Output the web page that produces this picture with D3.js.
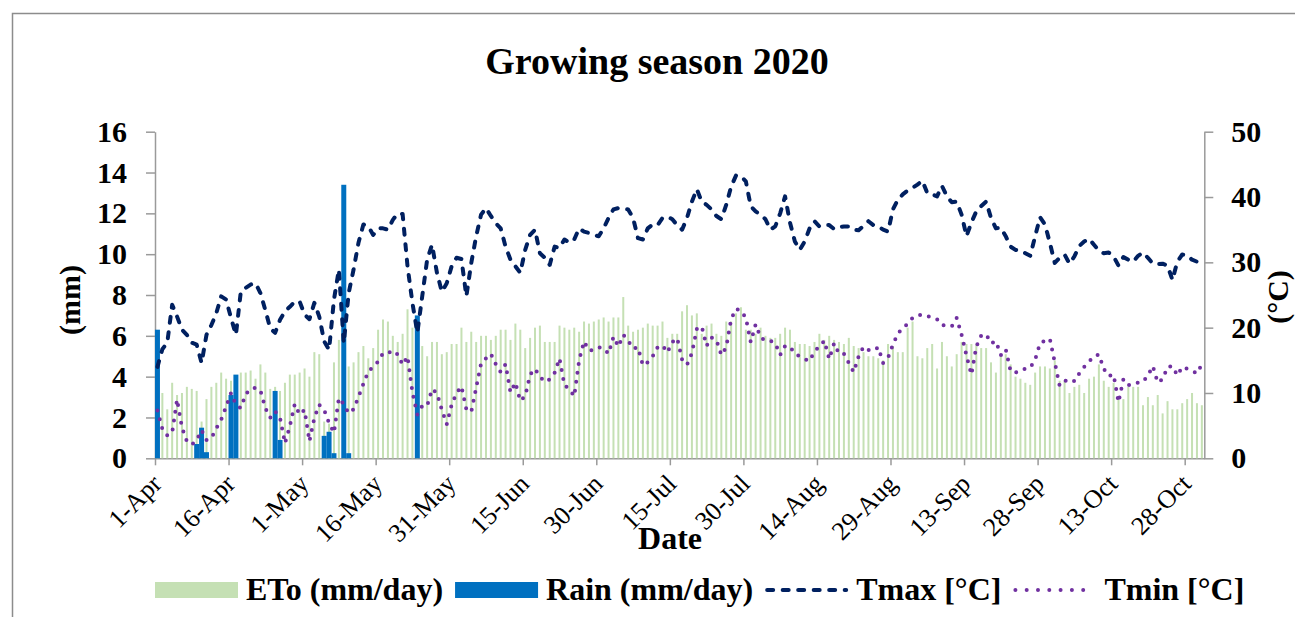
<!DOCTYPE html>
<html>
<head>
<meta charset="utf-8">
<script src="https://cdn.jsdelivr.net/npm/d3@7"></script>
<style>
  html, body { margin: 0; padding: 0; background: #fff; }
  svg { display: block; font-family: "Liberation Serif", "Times New Roman", serif; }
</style>
</head>
<body>
<svg id="chart" width="1295" height="617"></svg>
<script>
// Daily weather series, 1 April - 31 October 2020
const startDate = "2020-04-01";

const eto = [
  3.0,3.2,2.4,3.7,3.1,3.2,3.5,3.4,3.3,1.8,
  2.9,3.5,3.7,4.2,3.9,3.8,4.0,4.2,4.2,4.3,
  3.9,4.6,4.2,3.4,3.5,3.3,3.7,4.1,4.1,4.2,
  4.4,4.0,5.2,5.1,1.8,1.7,4.7,5.8,5.0,4.5,
  4.7,5.2,5.5,4.9,5.4,6.3,6.8,6.7,6.0,5.7,
  6.1,7.3,6.4,5.5,5.5,5.0,5.7,5.7,5.1,5.2,
  5.6,5.6,6.4,5.7,6.2,5.7,6.0,6.0,5.8,6.0,
  6.3,6.3,5.8,6.6,6.3,5.4,5.9,6.4,6.5,5.7,
  5.7,5.7,6.5,6.4,6.3,6.4,6.2,6.7,6.6,6.7,
  6.8,6.9,6.7,6.9,6.9,7.9,6.5,6.2,6.3,6.4,
  6.6,6.5,6.5,6.7,5.9,6.1,6.1,7.2,7.5,7.0,
  7.1,6.1,6.5,6.6,6.1,6.0,6.7,6.7,7.1,7.4,
  6.3,6.3,6.1,6.4,6.0,5.9,5.9,6.1,6.4,6.3,
  5.7,5.6,5.6,5.5,5.7,6.1,5.8,6.0,5.8,5.7,
  5.6,5.9,5.5,5.4,5.2,5.0,5.0,4.9,4.8,5.6,
  5.5,5.2,5.2,6.4,6.7,5.0,4.9,5.4,5.6,4.4,
  5.7,5.0,4.5,5.1,5.7,5.6,5.6,5.6,5.4,5.4,
  4.7,4.2,5.0,5.1,4.6,4.0,3.9,3.7,3.6,4.2,
  4.5,4.5,4.4,4.8,3.8,3.8,3.2,3.5,3.6,3.2,
  3.9,4.0,4.6,3.8,3.5,3.7,2.9,2.9,3.5,3.5,
  3.5,2.6,3.0,2.6,3.1,2.2,2.8,2.4,2.4,2.7,
  2.9,3.2,2.7,2.6
];

const rain = [
  6.3,0,0,0,0,0,0,0,0.7,1.5,
  0.3,0,0,0,0,3.1,4.1,0,0,0,
  0,0,0,0,3.3,0.9,0,0,0,0,
  0,0,0,0,1.1,1.3,0.25,0,13.4,0.25,
  0,0,0,0,0,0,0,0,0,0,
  0,0,0,7.0,0,0,0,0,0,0,
  0,0,0,0,0,0,0,0,0,0,
  0,0,0,0,0,0,0,0,0,0,
  0,0,0,0,0,0,0,0,0,0,
  0,0,0,0,0,0,0,0,0,0,
  0,0,0,0,0,0,0,0,0,0,
  0,0,0,0,0,0,0,0,0,0,
  0,0,0,0,0,0,0,0,0,0,
  0,0,0,0,0,0,0,0,0,0,
  0,0,0,0,0,0,0,0,0,0,
  0,0,0,0,0,0,0,0,0,0,
  0,0,0,0,0,0,0,0,0,0,
  0,0,0,0,0,0,0,0,0,0,
  0,0,0,0,0,0,0,0,0,0,
  0,0,0,0,0,0,0,0,0,0,
  0,0,0,0,0,0,0,0,0,0,
  0,0,0,0
];

const tmax = [
  14.0,16.7,17.7,23.5,21.7,19.7,18.9,17.7,17.4,14.6,
  18.9,20.4,22.2,24.8,24.3,21.5,18.9,25.5,26.1,26.6,
  26.8,25.3,22.7,19.9,19.2,21.2,22.5,23.2,24.0,24.0,
  22.0,21.3,23.8,21.7,17.9,16.6,24.3,28.9,17.6,25.3,
  28.9,33.0,35.8,35.5,34.2,35.2,35.2,35.0,36.5,37.5,
  37.4,29.4,23.8,19.2,24.8,30.4,32.7,28.4,25.5,26.8,
  29.4,30.7,30.5,24.8,29.9,34.0,37.3,38.3,37.1,36.0,
  35.2,32.4,30.4,29.4,28.4,31.9,34.2,35.0,31.4,30.7,
  29.6,32.4,32.2,33.5,33.0,33.5,35.2,34.7,34.5,34.2,
  34.0,35.2,36.8,38.1,38.3,38.2,38.1,36.8,33.7,33.5,
  35.2,35.8,35.7,36.8,37.0,36.6,35.7,35.0,36.8,39.3,
  41.2,39.3,38.8,38.1,37.1,36.6,38.8,41.6,43.3,43.2,
  42.4,38.6,37.8,37.3,36.6,35.0,35.5,37.5,40.1,36.1,
  33.2,31.9,33.2,35.2,36.3,35.5,35.7,35.7,35.1,35.4,
  35.5,35.5,35.0,34.9,35.6,36.3,35.7,35.5,35.0,34.7,
  38.1,39.6,40.4,41.0,41.4,41.9,42.5,40.6,40.4,40.1,
  41.7,40.1,39.2,39.3,37.3,34.0,36.1,37.8,38.6,39.3,
  36.8,35.2,35.3,34.0,32.4,31.9,31.8,31.4,31.0,34.0,
  36.9,35.8,33.0,29.9,30.7,31.2,29.8,30.9,32.5,33.2,
  33.6,32.7,31.8,31.4,31.5,30.9,29.5,30.8,30.4,30.1,
  31.0,31.5,30.7,29.8,29.7,29.8,29.5,27.3,30.1,31.2,
  31.1,30.4,30.1,29.1
];

const tmin = [
  7.3,4.5,3.5,3.9,9.0,4.7,2.6,2.1,2.8,4.3,
  2.8,3.1,4.6,5.9,7.9,10.0,8.2,7.7,9.8,10.6,
  10.8,10.4,7.7,6.2,7.2,6.2,2.3,4.9,8.3,6.7,
  7.4,2.6,6.2,8.2,7.4,5.4,3.9,9.2,8.3,6.9,
  7.5,9.4,11.4,13.3,14.0,14.8,16.1,16.1,16.5,15.9,
  14.3,15.6,10.1,6.7,8.0,8.0,10.6,10.0,7.4,5.2,
  8.2,10.0,11.0,7.5,7.1,10.8,14.5,15.3,16.0,14.4,
  13.2,14.4,10.1,11.6,8.8,9.5,12.8,13.7,12.5,11.7,
  12.1,13.1,15.3,11.2,10.6,9.5,15.0,17.9,16.5,16.6,
  17.0,16.8,16.0,18.6,17.1,18.9,18.0,16.8,17.0,14.2,
  14.7,15.6,17.0,17.3,16.2,17.8,18.4,15.1,14.3,16.1,
  19.8,20.2,17.2,18.5,18.1,15.8,17.0,21.3,22.9,22.6,
  21.5,17.8,20.5,18.5,18.0,18.0,17.6,15.8,17.2,17.1,
  16.0,15.6,15.2,14.9,16.4,17.1,18.0,15.2,17.6,16.0,
  16.0,14.6,13.2,15.6,17.1,16.6,16.5,17.0,14.6,15.4,
  17.4,19.1,19.9,20.6,21.5,21.9,22.0,21.8,21.5,21.3,
  20.4,20.3,20.2,21.5,18.9,15.7,12.8,17.1,18.8,19.0,
  17.6,17.9,15.8,16.7,13.3,13.1,13.5,13.7,13.9,15.1,
  17.6,18.0,18.3,14.7,11.1,11.8,12.1,11.8,13.0,14.0,
  14.8,15.6,15.9,13.7,12.6,12.8,8.6,12.1,11.2,11.3,
  11.6,11.7,12.7,14.1,11.6,12.1,14.0,14.1,12.7,14.0,
  13.7,13.4,13.0,14.4
];

const tickLabels = ["1-Apr","16-Apr","1-May","16-May","31-May","15-Jun","30-Jun",
  "15-Jul","30-Jul","14-Aug","29-Aug","13-Sep","28-Sep","13-Oct","28-Oct"];
const tickEvery = 15;
const mmTicks = [0,2,4,6,8,10,12,14,16];
const tempTicks = [0,10,20,30,40,50];

const legendItems = [
  { key: "eto",  label: "ETo (mm/day)" },
  { key: "rain", label: "Rain (mm/day)" },
  { key: "tmax", label: "Tmax [°C]" },
  { key: "tmin", label: "Tmin [°C]" }
];

// ---- layout ----
const W = 1295, H = 617;
const plot = { left: 155, right: 1204.3, top: 131.7, bottom: 458.3 };
const C = {
  eto: "#c5e0b4", rain: "#0070c0", tmax: "#002060", tmin: "#7030a0",
  axis: "#9a9a9a", frame: "#8c8c8c"
};

const svg = d3.select("#chart");
svg.append("rect").attr("width", W).attr("height", H).attr("fill", "#fff");
// chart frame (only its top and left edges fall inside the page)
svg.append("rect")
  .attr("x", 12.5).attr("y", 13.5).attr("width", 1300).attr("height", 640)
  .attr("fill", "none").attr("stroke", C.frame).attr("stroke-width", 1.5);

const start = d3.timeParse("%Y-%m-%d")(startDate);
const days = d3.timeDay.range(start, d3.timeDay.offset(start, eto.length));
const idx = d3.range(days.length);

const x = d3.scaleBand().domain(idx).range([plot.left, plot.right]).padding(0);
const xEdge = d3.scaleLinear().domain([0, days.length]).range([plot.left, plot.right]);
const yL = d3.scaleLinear().domain([0, 16]).range([plot.bottom, plot.top]);
const yR = d3.scaleLinear().domain([0, 50]).range([plot.bottom, plot.top]);
const bw = x.bandwidth();
const cx = i => x(i) + bw / 2;

// ---- title ----
svg.append("text")
  .attr("x", 657).attr("y", 74).attr("text-anchor", "middle")
  .attr("font-size", 38).attr("font-weight", "bold").text("Growing season 2020");

// ---- axes ----
function styleAxis(g) {
  g.selectAll("path").attr("stroke", C.axis).attr("stroke-width", 1.5);
  g.selectAll("line").attr("stroke", C.axis).attr("stroke-width", 1.5);
  g.selectAll("text").attr("fill", "#000").attr("font-size", 30).attr("font-weight", "bold")
    .attr("font-family", '"Liberation Serif", "Times New Roman", serif');
}
svg.append("g").attr("transform", `translate(${plot.left},0)`)
  .call(d3.axisLeft(yL).tickValues(mmTicks).tickFormat(d3.format("d"))
    .tickSize(9).tickSizeOuter(0).tickPadding(19))
  .call(styleAxis);
svg.append("g").attr("transform", `translate(${plot.right},0)`)
  .call(d3.axisRight(yR).tickValues(tempTicks).tickFormat(d3.format("d"))
    .tickSize(9).tickSizeOuter(0).tickPadding(18))
  .call(styleAxis);

// date axis: ticks sit on the day boundaries every 15 days
const tickIdx = tickLabels.map((_, k) => k * tickEvery);
const xAxisG = svg.append("g").attr("transform", `translate(0,${plot.bottom})`)
  .call(d3.axisBottom(xEdge).tickValues(tickIdx).tickSize(7).tickSizeOuter(0).tickFormat(""));
xAxisG.selectAll("path").attr("stroke", C.axis).attr("stroke-width", 1.5);
xAxisG.selectAll("line").attr("stroke", C.axis).attr("stroke-width", 1.5);

svg.append("g").selectAll("text").data(tickIdx).join("text")
  .attr("transform", (d) => `translate(${xEdge(d) + 8},${plot.bottom + 27}) rotate(-45)`)
  .attr("text-anchor", "end").attr("font-size", 26)
  .text((d, k) => tickLabels[k]);

// axis titles
svg.append("text")
  .attr("transform", "translate(80,300) rotate(-90)")
  .attr("text-anchor", "middle").attr("font-size", 30).attr("font-weight", "bold").text("(mm)");
svg.append("text")
  .attr("transform", "translate(1288,297) rotate(-90)")
  .attr("text-anchor", "middle").attr("font-size", 30).attr("font-weight", "bold").text("(°C)");
svg.append("text")
  .attr("x", 670).attr("y", 549).attr("text-anchor", "middle")
  .attr("font-size", 32).attr("font-weight", "bold").text("Date");

// ---- bars ----
const etoW = 2, rainW = 5;
svg.append("g").selectAll("rect").data(idx).join("rect")
  .attr("x", i => cx(i) - etoW / 2).attr("width", etoW)
  .attr("y", i => yL(eto[i])).attr("height", i => yL(0) - yL(eto[i]))
  .attr("fill", C.eto);
svg.append("g").selectAll("rect").data(idx.filter(i => rain[i] > 0)).join("rect")
  .attr("x", i => cx(i) - rainW / 2).attr("width", rainW)
  .attr("y", i => yL(rain[i])).attr("height", i => yL(0) - yL(rain[i]))
  .attr("fill", C.rain);

// ---- temperature lines ----
const tmaxDash = "6,9.5", tminDash = "0,9";
const lineOf = arr => d3.line().x(i => cx(i)).y(i => yR(arr[i]))(idx);
svg.append("path").attr("d", lineOf(tmax))
  .attr("fill", "none").attr("stroke", C.tmax).attr("stroke-width", 4)
  .attr("stroke-dasharray", tmaxDash).attr("stroke-linecap", "round").attr("stroke-linejoin", "round");
svg.append("path").attr("d", lineOf(tmin))
  .attr("fill", "none").attr("stroke", C.tmin).attr("stroke-width", 4)
  .attr("stroke-dasharray", tminDash).attr("stroke-linecap", "round");

// ---- legend ----
const legY = 590, symW = 83, symGap = 8, itemGap = 12;
const leg = svg.append("g");
let lx = 155;
legendItems.forEach(item => {
  if (item.key === "eto" || item.key === "rain") {
    leg.append("rect").attr("x", lx).attr("y", legY - 8).attr("width", symW).attr("height", 16)
      .attr("fill", C[item.key]);
  } else {
    leg.append("line").attr("x1", lx + 2).attr("x2", lx + symW - 2).attr("y1", legY).attr("y2", legY)
      .attr("stroke", C[item.key]).attr("stroke-width", 4).attr("stroke-linecap", "round")
      .attr("stroke-dasharray", item.key === "tmax" ? tmaxDash : "0,11.3");
  }
  const t = leg.append("text").attr("x", lx + symW + symGap).attr("y", legY + 10)
    .attr("font-size", 32).attr("font-weight", "bold").text(item.label);
  lx = lx + symW + symGap + t.node().getComputedTextLength() + itemGap;
});
</script>
</body>
</html>
